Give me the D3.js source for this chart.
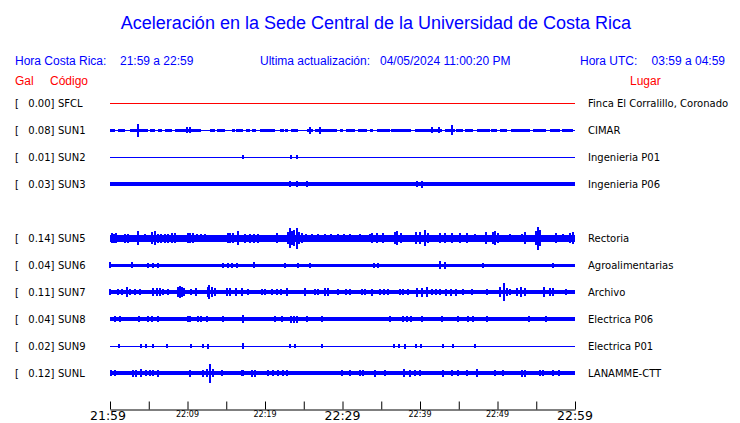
<!DOCTYPE html>
<html><head><meta charset="utf-8">
<script src="https://cdn.jsdelivr.net/npm/d3@7"></script>
<style>body{margin:0;background:#fff}svg{display:block}</style>
</head><body>
<svg id="c" width="740" height="423"></svg>
<script>
// ---- data ----
const title = "Aceleración en la Sede Central de la Universidad de Costa Rica";
const localRange = ["21:59", "22:59"];
const utcRange = ["03:59", "04:59"];
const updated = "04/05/2024 11:00:20 PM";
const codes  = ["SFCL","SUN1","SUN2","SUN3","SUN4","SUN5","SUN6","SUN7","SUN8","SUN9","SUNL"];
const gal    = [0.00, 0.08, 0.01, 0.03, null, 0.14, 0.04, 0.11, 0.04, 0.02, 0.12];
const places = ["Finca El Corralillo, Coronado","CIMAR","Ingenieria P01","Ingenieria P06",null,
                "Rectoria","Agroalimentarias","Archivo","Electrica P06","Electrica P01","LANAMME-CTT"];
// baseline noise half-amplitude (arbitrary counts)
const baseAmp = [0.5, 0.6, 0.7, 2.0, null, 3.5, 1.5, 1.8, 2.0, 0.6, 2.0];
const tickMinutes = [0,5,10,15,20,25,30,35,40,45,50,55,60];
const labelMinutes = [0,10,20,30,40,50,60];
const majorLabels = [0,30,60];
// noisier segments [t0, t1] (minutes after 21:59)
const SUN1_blocks = [[0,0.65],[1.07,1.94],[2.58,4.94],[5.16,5.8],[6.2,6.7],[7.1,7.96],[8.4,9.9],[10.1,11.8],
  [12.9,13.5],[13.8,14.8],[15.7,16.1],[16.3,17.2],[17.6,18.1],[18.3,18.9],[19.4,21.3],[21.9,22.4],[22.6,23.0],
  [23.4,24.3],[25.4,26.2],[26.5,29.3],[29.7,30.1],[30.5,31.6],[32,33.2],[33.5,33.9],[34.4,36.1],[36.3,38.9],
  [39.4,41.3],[41.3,42.8],[43.2,44.5],[44.7,45.6],[45.8,46.9],[47.3,49.0],[49.2,49.9],[50.3,51.2],[51.8,54.2],
  [54.6,56.3],[56.8,58.1],[58.3,59.8]];
const SUN1_blockAmp = 1.5;
// spikes [t (minutes), amp]
const spikes = {
  SFCL: [],
  SUN1: [[3.65,6.5],[9.9,3],[10.3,3],[25.8,3.5],[27.1,3.5],[41.5,3],[42.5,3],[44.1,5]],
  SUN2: [[17.2,2],[23.3,2],[24.1,2]],
  SUN3: [[23.2,3],[24.1,3],[25.4,3],[39.6,3],[40.2,3.5]],
  SUN4: [],
  SUN5: [[0.2,5],[0.5,4.5],[0.8,5],[1.9,4.5],[2.3,4.5],[3.6,7],[4.5,4],[5.4,6],[5.8,7],[6.2,4.5],[6.6,4.5],[7.1,4.5],
    [7.5,4.5],[8.0,5],[8.4,5],[10.1,5],[10.3,5],[10.7,5],[11.2,4],[11.7,4],[12.3,4],[15.2,5],[15.5,5],[15.9,5],[16.5,7],
    [17.4,4.5],[18.1,4.5],[18.6,4.5],[19.1,4.5],[21.5,5],[23.0,6],[23.2,10],[23.5,7],[23.7,8],[24.1,10.5],[24.4,6],
    [24.8,5],[25.3,4],[26.1,4],[26.8,4],[27.7,4],[28.5,4],[29.4,4],[30.2,4],[31.0,4],[32.3,4],[33.5,4],[33.8,5],
    [34.5,5],[35.2,5],[36.8,6],[37.0,7],[37.6,5],[39.5,6],[40.0,6],[40.7,8],[41.0,5],[42.6,5],[43.2,5],[44.1,5],
    [45.2,5],[46.0,5],[47.1,4],[48.5,6],[49.4,6],[49.7,7],[50.0,5],[51.6,4],[53.1,4],[53.5,6],[55.0,7],[55.2,11.5],
    [55.5,8],[57.6,5],[58.5,4],[59.3,5],[59.8,6]],
  SUN6: [[0,3],[2.8,3],[4.9,2.5],[5.5,2.5],[6.2,2.5],[14.6,2.5],[15.2,2.5],[15.8,2.5],[16.4,2.5],[18.6,3],[22.6,2.5],
    [24.3,2.5],[25.8,2.5],[34.0,2.5],[34.6,2.5],[42.6,4],[43.2,3.5],[48.1,2.5],[57.2,2.5]],
  SUN7: [[0,3],[1.0,3],[1.5,3],[2.15,5],[2.6,3],[3.2,3],[3.9,3],[5.6,4],[6.1,4],[6.5,4],[6.9,3],[7.5,3],[8.8,5],
    [9.0,6],[9.3,5],[9.6,4],[10.5,3],[11.1,4],[12.6,5],[12.8,7],[13.1,5],[13.5,4],[15.1,4],[15.5,4],[16.3,4],[17.0,4],
    [17.8,3],[19.6,3],[20.0,3],[20.9,3],[21.5,3],[22.1,3],[22.9,4],[25.2,4],[26.5,3],[26.8,3],[27.7,4],[28.1,4],
    [29.4,3],[30.5,3],[31.0,3],[32.5,3],[32.9,3],[33.8,3.5],[34.8,3],[35.3,3],[35.9,3],[37.4,3],[37.8,3],[38.5,3],
    [39.6,4.5],[40.2,4.5],[40.9,5],[41.5,3],[42.0,3],[42.6,3],[43.4,3.5],[44.0,3.5],[44.7,3.5],[45.6,3],[46.7,3],
    [48.6,3],[50.3,5],[50.9,9],[51.2,4],[51.6,3],[52.5,4],[53.0,5],[53.5,4],[56.0,5],[56.8,4],[57.2,4],[58.9,3]],
  SUN8: [[0.6,3],[1.3,3],[3.7,3],[4.9,3],[5.4,3],[6.2,3],[10.1,3],[10.3,3],[11.4,3],[11.8,3],[12.5,3],[14.6,3],
    [17.2,4],[21.3,3],[22.2,3],[23.3,3.5],[23.7,3.5],[24.1,3.5],[25.4,3],[27.3,3],[36.1,3],[37.8,3],[38.3,3],[38.9,3],
    [40.2,3],[42.9,3],[44.9,3],[46.2,3],[46.9,3],[48.6,3],[54.0,3],[56.3,3]],
  SUN9: [[1.1,2],[4.0,2],[4.6,2],[5.5,2],[7.4,2],[10.5,2],[12.0,2],[12.6,2.5],[17.2,3],[23.2,2],[23.9,2],[27.4,2],
    [36.6,2],[37.3,2],[38.1,2.5],[39.5,2],[40.1,2],[43.0,2],[44.2,2],[47.1,2]],
  SUNL: [[0.1,3],[0.6,3],[3.0,3.5],[3.4,3.5],[4.0,4],[4.7,3],[5.2,3],[5.6,3],[6.2,3.5],[10.3,3.5],[12.0,3.5],
    [12.5,4],[12.95,9.5],[13.3,4],[14.4,3],[17.0,3],[17.2,3],[18.3,3.5],[18.7,3.5],[20.4,3],[21.0,3],[21.7,3],
    [22.3,3],[22.8,3],[29.9,3],[31.0,3],[32.3,3],[32.7,3],[34.2,3.5],[35.5,3],[37.9,4],[38.7,3.5],[39.4,3],[40.0,3],
    [43.0,3.5],[44.1,3],[44.9,3],[46.0,3],[47.4,4],[49.7,3],[50.7,3],[53.1,3.5],[53.5,3.5],[55.5,3],[55.9,3],
    [57.2,3],[57.9,3]]
};

// ---- drawing ----
const svg = d3.select("#c");
const blue = "#0000ff", red = "#ff0000";
const sans = "'Liberation Sans', Arial, sans-serif";
const dv = "'DejaVu Sans', sans-serif";

const t0 = new Date(2024, 3, 5, 21, 59);
const minute = m => new Date(t0.getTime() + m * 60000);
const x = d3.scaleTime().domain([minute(0), minute(60)]).range([110, 575]);
const y = d3.scalePoint().domain(codes).range([103, 373]);
const a = d3.scaleLinear().domain([0, 1]).range([0, 1]); // counts -> px

svg.append("text").attr("x", 376).attr("y", 29).attr("text-anchor", "middle")
  .attr("font-family", sans).attr("font-size", 18).attr("fill", blue).text(title);

const hdr = svg.append("g").attr("font-family", sans).attr("font-size", 12).attr("fill", blue);
hdr.append("text").attr("x", 15).attr("y", 65).text("Hora Costa Rica:");
hdr.append("text").attr("x", 120).attr("y", 65).text(localRange[0] + " a " + localRange[1]);
hdr.append("text").attr("x", 260).attr("y", 65).text("Ultima actualización:");
hdr.append("text").attr("x", 380).attr("y", 65).text(updated);
hdr.append("text").attr("x", 580).attr("y", 65).text("Hora UTC:");
hdr.append("text").attr("x", 725).attr("y", 65).attr("text-anchor", "end").text(utcRange[0] + " a " + utcRange[1]);

const hdr2 = svg.append("g").attr("font-family", sans).attr("font-size", 12).attr("fill", red);
hdr2.append("text").attr("x", 15).attr("y", 85).text("Gal");
hdr2.append("text").attr("x", 50).attr("y", 85).text("Código");
hdr2.append("text").attr("x", 630).attr("y", 85).text("Lugar");

codes.forEach((code, i) => {
  if (gal[i] === null) return;
  const cy = y(code);
  const g = svg.append("g");
  const col = code === "SFCL" ? red : blue;
  // labels
  const lab = g.append("g").attr("font-family", dv).attr("font-size", 10).attr("fill", "#000");
  lab.append("text").attr("x", 15).attr("y", cy + 4).text("[");
  lab.append("text").attr("x", 54.5).attr("y", cy + 4).attr("text-anchor", "end").text(gal[i].toFixed(2) + "]");
  lab.append("text").attr("x", 58).attr("y", cy + 4).text(code);
  lab.append("text").attr("x", 588).attr("y", cy + 4).text(places[i]);
  // trace
  const tr = g.append("g").attr("shape-rendering", "crispEdges").attr("fill", col);
  const h = Math.max(1, Math.round(2 * a(baseAmp[i])));
  tr.append("rect").attr("x", x(minute(0))).attr("width", x(minute(60)) - x(minute(0)))
    .attr("y", Math.round(cy - h / 2)).attr("height", h);
  if (code === "SUN1") {
    tr.selectAll("rect.blk").data(SUN1_blocks).join("rect").attr("class", "blk")
      .attr("x", d => x(minute(d[0]))).attr("width", d => x(minute(d[1])) - x(minute(d[0])))
      .attr("y", cy - a(SUN1_blockAmp)).attr("height", 2 * a(SUN1_blockAmp));
  }
  tr.selectAll("rect.sp").data(spikes[code]).join("rect").attr("class", "sp")
    .attr("x", d => Math.round(x(minute(d[0])) - 1)).attr("width", 2)
    .attr("y", d => Math.round(cy - a(d[1]))).attr("height", d => Math.round(2 * a(d[1])));
});

// axis
const axY = 409.5;
svg.append("g").attr("transform", `translate(0,${axY})`)
  .call(d3.axisTop(x).tickValues(tickMinutes.map(minute)).tickSize(8).tickSizeOuter(0).tickFormat(""))
  .call(g => g.selectAll("line,path").attr("stroke", "#000"));
const fmt = d3.timeFormat("%H:%M");
svg.append("g").selectAll("text").data(labelMinutes).join("text")
  .attr("x", m => x(minute(m)) - (m === 0 ? 2 : 0))
  .attr("y", m => majorLabels.includes(m) ? 420 : 417)
  .attr("text-anchor", "middle").attr("font-family", dv)
  .attr("font-size", m => majorLabels.includes(m) ? 12.5 : 8)
  .attr("fill", "#000").text(m => fmt(minute(m)));
</script>
</body></html>
